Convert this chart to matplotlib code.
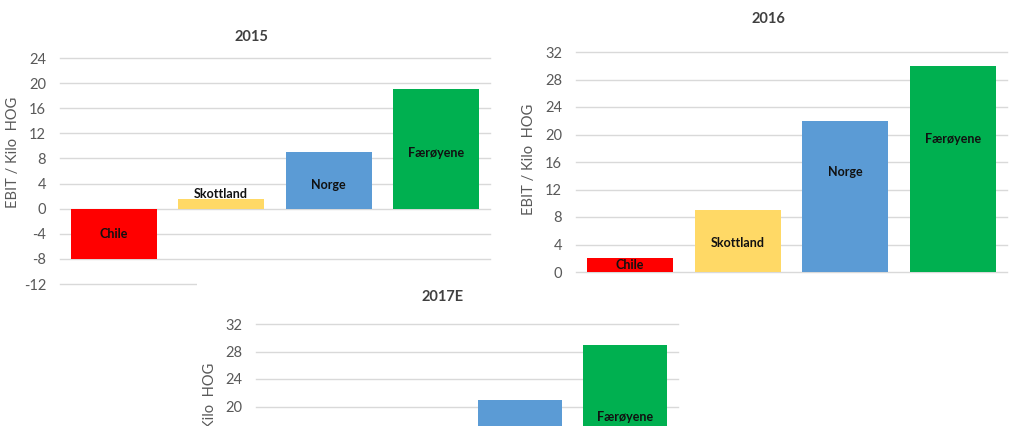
import matplotlib
matplotlib.use("Agg")
import matplotlib.pyplot as plt
from matplotlib.patches import Rectangle

plt.rcParams['font.family'] = ['Lato', 'DejaVu Sans']

# ---- data ----
countries = ["Chile", "Skottland", "Norge", "Færøyene"]
values_2015 = [-8, 1.5, 9, 19]
values_2016 = [2, 9, 22, 30]
values_2017e = [4, 11, 21, 29]   # Chile / Skottland not visible in the reference (estimated)
titles = ["2015", "2016", "2017E"]
ylabel = "EBIT / Kilo  HOG"
yticks_2015 = list(range(-12, 25, 4))
yticks_2016 = list(range(0, 33, 4))
yticks_2017 = list(range(20, 33, 4))   # only these are inside the visible crop

colors = ["#FF0000", "#FFD966", "#5B9BD5", "#00B050"]

W, H = 1024, 426
fig = plt.figure(figsize=(W / 100, H / 100), dpi=100)
fig.patch.set_facecolor("white")


def rect(l, t, r, b):
    return [l / W, 1 - b / H, (r - l) / W, (b - t) / H]


def panel(box, values, ylim, yticks, label_pos, title, title_xy, ylab_xy, z=1):
    ax = fig.add_axes(rect(*box), zorder=z)
    ax.set_facecolor("none")
    x = range(len(countries))
    ax.bar(x, values, width=0.8, color=colors, zorder=3)
    ax.set_xlim(-0.5, len(countries) - 0.5)
    ax.set_ylim(*ylim)
    ax.set_yticks(yticks)
    ax.set_yticklabels([str(t) for t in yticks])
    ax.set_xticks([])
    for s in ax.spines.values():
        s.set_visible(False)
    ax.yaxis.grid(True, color="#d9d9d9", linewidth=1.0, zorder=0)
    for gl in ax.get_ygridlines():
        gl.set_clip_on(False)
    ax.set_axisbelow(True)
    ax.tick_params(axis="y", length=0, pad=10, labelsize=10.5, labelcolor="#595959")
    for i, f in enumerate(label_pos):
        if f is None:
            continue
        ax.text(i, f, countries[i], ha="center", va="center", fontsize=9,
                fontweight="bold", color="#111111", zorder=4)
    fig.text(title_xy[0] / W, 1 - title_xy[1] / H, title, ha="center", va="center",
             fontsize=10.5, fontweight="bold", color="#404040", zorder=z + 1)
    fig.text(ylab_xy[0] / W, 1 - ylab_xy[1] / H, ylabel, rotation=90, ha="center",
             va="center", fontsize=10.5, color="#595959", zorder=z + 1)
    return ax


# label positions in data units (layout); None = label outside the visible crop
lab_2015 = [-4, 2.4, 3.8, 8.9]
lab_2016 = [1.0, 4.2, 14.5, 19.3]
lab_2017 = [None, None, None, 18.5]

panel((60, 58, 490, 284), values_2015, (-12, 24), yticks_2015, lab_2015,
      titles[0], (251, 37), (13, 152))
panel((576, 52, 1007, 272), values_2016, (0, 32), yticks_2016, lab_2016,
      titles[1], (768, 19), (529, 159))

# white background of the overlapping 2017E chart
bg = Rectangle((197 / W, 0), (690 - 197) / W, (H - 283) / H, transform=fig.transFigure,
               facecolor="white", edgecolor="none", zorder=5)
fig.patches.append(bg)

# 2017E chart: same scale as 2016 (32 -> 0 over 220 px), cropped at the picture's bottom edge
y_bottom_2017 = 32 - (426 - 324) * 32 / 220
panel((256, 324, 678, 426), values_2017e, (y_bottom_2017, 32), yticks_2017, lab_2017,
      titles[2], (443, 297), (210, 418), z=6)

fig.savefig("out.png", dpi=100, facecolor="white")
